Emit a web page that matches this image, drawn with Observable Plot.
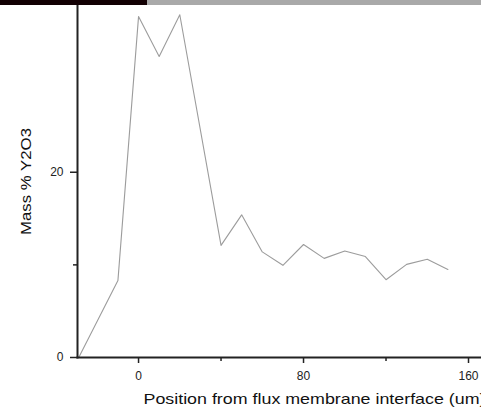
<!DOCTYPE html>
<html>
<head>
<meta charset="utf-8">
<script src="https://cdn.jsdelivr.net/npm/d3@7"></script>
<script src="https://cdn.jsdelivr.net/npm/@observablehq/plot@0.6"></script>
<style>
  html, body { margin: 0; padding: 0; background: #fff; }
  #wrap { position: relative; width: 481px; height: 413px; overflow: hidden; font-family: "Liberation Sans", Arial, sans-serif; }
  #bandA { position: absolute; left: 0; top: 0; width: 147px; height: 5px; background: #120003; }
  #bandB { position: absolute; left: 147px; top: 0; width: 334px; height: 5px; background: #a9a9a9; }
  svg { display: block; }
</style>
</head>
<body>
<div id="wrap"><div id="chart"></div><div id="bandA"></div><div id="bandB"></div></div>
<script>
const positions = [-29, -10, 0, 10, 20, 40, 50, 60, 70, 80, 90, 100, 110, 120, 130, 140, 150];
const massY2O3 = [0, 8.3, 36.8, 32.5, 37.0, 12.1, 15.4, 11.4, 9.95, 12.2, 10.7, 11.5, 10.9, 8.4, 10.05, 10.6, 9.5];
const xMajorTicks = [0, 80, 160];
const xMinorTicks = [40, 120];
const yMajorTicks = [0, 20];
const yMinorTicks = [10];
const xLabel = "Position from flux membrane interface (um)";
const yLabel = "Mass % Y2O3";

const data = positions.map((p, i) => ({x: p, y: massY2O3[i]}));
const axisColor = "#222";

const chart = Plot.plot({
  width: 481,
  height: 413,
  marginLeft: 77,
  marginRight: 0,
  marginTop: 5,
  marginBottom: 56,
  style: {fontFamily: "'Liberation Sans', Arial, sans-serif", background: "transparent", color: axisColor},
  x: {domain: [-29.6, 166.3]},
  y: {domain: [0, 38]},
  marks: [
    Plot.line(data, {x: "x", y: "y", stroke: "#9c9c9c", strokeWidth: 1.1}),
    Plot.frame({anchor: "left", stroke: axisColor, strokeWidth: 2}),
    Plot.frame({anchor: "bottom", stroke: axisColor, strokeWidth: 2}),
    Plot.axisX({ticks: xMajorTicks, tickSize: 6, tickPadding: 8, fontSize: 12, label: null, stroke: axisColor, strokeWidth: 1.5}),
    Plot.axisX({ticks: xMinorTicks, tickSize: 4, tickFormat: () => "", label: null, stroke: axisColor, strokeWidth: 1.5}),
    Plot.axisY({ticks: yMajorTicks, tickSize: 7, tickPadding: 7, fontSize: 12, label: null, stroke: axisColor, strokeWidth: 1.5}),
    Plot.axisY({ticks: yMinorTicks, tickSize: 4, tickFormat: () => "", label: null, stroke: axisColor, strokeWidth: 1.5}),
    Plot.text([xLabel], {frameAnchor: "bottom-left", dx: 66, dy: 46, textAnchor: "start", fontSize: 15, fill: "#111"}),
    Plot.text([yLabel], {frameAnchor: "left", dx: -51, textAnchor: "middle", rotate: -90, fontSize: 15, fill: "#111"})
  ]
});
document.getElementById("chart").appendChild(chart);
// stretch the axis titles horizontally like the reference's wide lettering
d3.select(chart).selectAll("text").each(function() {
  const t = this.textContent;
  if (t === xLabel) d3.select(this).attr("textLength", 342).attr("lengthAdjust", "spacingAndGlyphs");
  if (t === yLabel) d3.select(this).attr("textLength", 107).attr("lengthAdjust", "spacingAndGlyphs");
});
</script>
</body>
</html>
